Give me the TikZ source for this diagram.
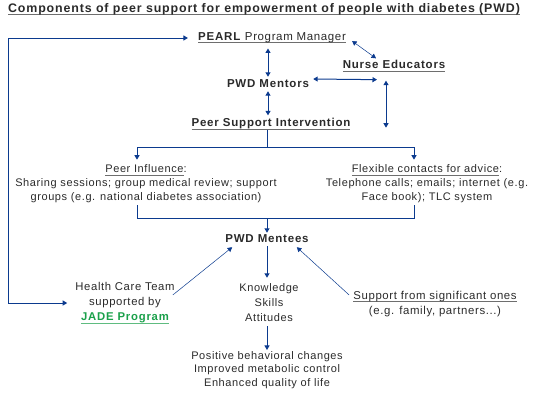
\documentclass[tikz,border=0pt]{standalone}
\usepackage{fontspec}
\setmainfont{Liberation Sans}[LetterSpace=5.5,BoldFeatures={LetterSpace=7}]
\usetikzlibrary{arrows.meta}
\definecolor{txt}{HTML}{2A2A2A}
\definecolor{arr}{HTML}{0B3A8E}
\definecolor{ulg}{HTML}{6E6E6E}
\definecolor{jade}{HTML}{1AA04A}
\newcommand\myul[1]{\setbox0\hbox{#1}\rlap{\color{ulg}\rule[-2.6pt]{\wd0}{0.9pt}}\box0}
\begin{document}
\begin{tikzpicture}[x=1pt,y=-1pt,
  lbl/.style={text=txt,font=\fontsize{11}{14}\selectfont,align=center,inner sep=0pt},
  hd/.style={lbl,font=\fontsize{11.5}{14}\selectfont\bfseries},
  tip/.tip={Triangle[length=4.5pt,width=5pt]},
  plain/.style={draw=arr,line width=1pt},
  con/.style={plain,-tip},
  dcon/.style={plain,tip-tip},
  fine/.style={draw=arr,line width=0.5pt,-tip},
  dfine/.style={draw=arr,line width=0.5pt,tip-tip}]
\useasboundingbox (0,0) rectangle (540,405);
% nodes
\node[hd,font=\fontsize{12.4}{14}\selectfont\bfseries] (title) at (264,9) {\myul{Components of peer support for empowerment of people with diabetes (PWD)}};
\node[lbl,font=\fontsize{11.5}{14}\selectfont] (pearl) at (272,38) {\myul{\textbf{PEARL} Program Manager}};
\node[hd] (mentors) at (268,84) {PWD Mentors};
\node[hd] (nurse) at (394,66) {\myul{Nurse Educators}};
\node[hd] (psi) at (271,124) {\myul{Peer Support Intervention}};
\node[lbl] (peer) at (146,184) {\myul{Peer Influence}:\\Sharing sessions; group medical review; support\\groups (e.g. national diabetes association)};
\node[lbl] (flex) at (427,184) {\myul{Flexible contacts for advice}:\\Telephone calls; emails; internet (e.g.\\Face book); TLC system};
\node[hd] (mentees) at (267,239) {PWD Mentees};
\node[lbl,font=\fontsize{11.3}{15}\selectfont] (hct) at (125,303) {Health Care Team\\supported by\\{\color{jade}\bfseries\setbox0\hbox{JADE Program}\rlap{\color{jade!70}\rule[-2.6pt]{\wd0}{0.9pt}}\box0}};
\node[lbl,font=\fontsize{11}{15}\selectfont] (ksa) at (269,303) {Knowledge\\Skills\\Attitudes};
\node[lbl,font=\fontsize{11.4}{15}\selectfont] (sup) at (435,304) {\myul{Support from significant ones}\\(e.g. family, partners...)};
\node[lbl,font=\fontsize{11}{13.7}\selectfont] (out) at (267,370) {Positive behavioral changes\\Improved metabolic control\\Enhanced quality of life};
% coordinates
\coordinate (lx) at (8,0);
\coordinate (split) at (267,147);
\coordinate (merge) at (267,218);
% connectors
\draw[dcon] ([xshift=-8pt]hct.west) -| (lx |- pearl.west) -- ([xshift=-10pt]pearl.west);
\draw[dcon] ([yshift=-5pt]pearl.south -| mentors) -- ([yshift=3pt]mentors.north);
\draw[dfine] ([xshift=6pt,yshift=-3pt]pearl.east) -- ([xshift=-18pt,yshift=2pt]nurse.north);
\draw[dcon] ([xshift=4pt,yshift=5pt]mentors.east) -- ([xshift=-17pt,yshift=-8pt]nurse.south);
\draw[dcon] ([xshift=-8pt,yshift=-9pt]nurse.south) -- ++(0,47);
\draw[dcon] ([yshift=-3pt]mentors.south) -- ([yshift=3pt]psi.north -| mentors);
\draw[plain] (psi.south -| split) -- (split);
\draw[con] (split) -| ([xshift=-9pt,yshift=5pt]peer.north);
\draw[con] (split) -| ([xshift=-13pt,yshift=5pt]flex.north);
\draw[plain] ([xshift=-9pt,yshift=-2pt]peer.south) |- (merge);
\draw[plain] ([xshift=-13pt,yshift=-2pt]flex.south) |- (merge);
\draw[con] (merge) -- ([yshift=2pt]mentees.north -| merge);
\draw[con] ([yshift=-3pt]mentees.south -| merge) -- ([yshift=6pt]ksa.north -| merge);
\draw[con] ([yshift=-4pt]ksa.south -| merge) -- ([yshift=1pt]out.north -| merge);
\draw[fine] ([xshift=-2pt,yshift=8pt]hct.east) -- ([xshift=7pt,yshift=-4pt]mentees.south west);
\draw[fine] ([xshift=-4pt,yshift=9pt]sup.west) -- ([xshift=-12pt,yshift=-4pt]mentees.south east);
\end{tikzpicture}
\end{document}
